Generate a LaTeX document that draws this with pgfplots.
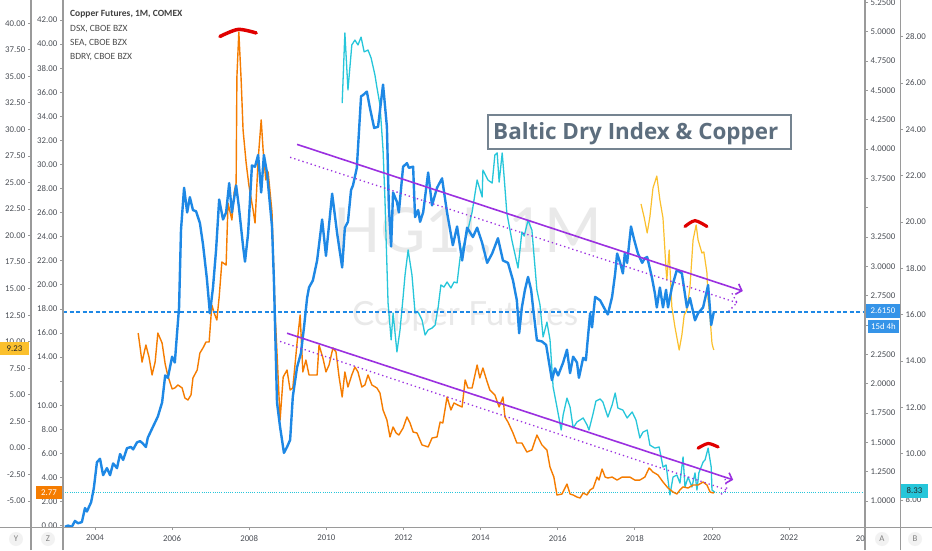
\documentclass[border=0pt]{standalone}
\usepackage{fontspec}
\setmainfont{Carlito}
\newfontfamily\titlefont{Open Sans}
\newfontfamily\wmfont{Lato}
\usepackage{graphicx}
\usepackage{pgfplots}
\pgfplotsset{compat=1.18}
\usetikzlibrary{arrows.meta}
\definecolor{cu}{HTML}{1E88E5}
\definecolor{dsx}{HTML}{F57C00}
\definecolor{sea}{HTML}{26C6DA}
\definecolor{bdry}{HTML}{FBC02D}
\definecolor{purp}{HTML}{9B30E0}
\definecolor{arcred}{HTML}{E00000}
\definecolor{tickc}{HTML}{4B4F56}
\definecolor{axgray}{HTML}{9A9A9A}
\definecolor{wm}{HTML}{E9E9E9}
\definecolor{ttl}{HTML}{5D6E7E}
\pgfplotsset{
 tvbase/.style={scale only axis, height=527pt, anchor=south west, clip=true,
   axis line style={draw=none}, major tick length=3pt, tick align=outside,
   tick style={draw=axgray, line width=0.8pt},
   ticklabel style={font=\fontsize{8.8}{9}\selectfont, text=tickc, inner sep=0pt}},
}
\begin{document}
\begin{tikzpicture}[x=1pt,y=1pt]
\useasboundingbox (0,0) rectangle (932,550);
\fill[white] (0,0) rectangle (932,550);
% watermark
\node[anchor=base west, inner sep=0pt, text=wm] at (333,297) {\resizebox{269pt}{!}{\wmfont HG1!, 1M}};
\node[anchor=base west, inner sep=0pt, text=wm] at (352,225) {\resizebox{226pt}{!}{\wmfont Copper Futures}};
% title box
\draw[draw=ttl!85, line width=1.6pt, fill=white] (488,401) rectangle (791,435);
\node[anchor=base west, inner sep=0pt, text=ttl] at (493,410.5) {\resizebox{285pt}{!}{\titlefont\bfseries Baltic Dry Index \& Copper}};

% ---------- Y axis: BDRY ----------
\begin{axis}[tvbase, width=834pt, at={(31pt,23pt)},
  xmin=2002.340, xmax=2023.969, ymin=-7.449, ymax=42.19,
  axis x line=none, axis y line*=left, xtick=\empty,
  ytick={-5,-2.5,0,2.5,5,7.5,10,12.5,15,17.5,20,22.5,25,27.5,30,32.5,35,37.5,40},
  yticklabels={-5.00,-2.50,0.00,2.50,5.00,7.50,10.00,12.50,15.00,17.50,20.00,22.50,25.00,27.50,30.00,32.50,35.00,37.50,40.00},
  yticklabel style={anchor=east, xshift=-2.5pt}]
\addplot[bdry, line width=1.2pt, line join=round] coordinates {
(2018.16,22.98)(2018.24,21.75)(2018.32,20.25)(2018.39,21.75)(2018.47,24.48)(2018.57,25.61)(2018.65,23.35)(2018.73,21.66)(2018.81,16.76)(2018.83,15.82)(2018.89,18.64)(2018.96,13.27)(2019.04,11.39)(2019.15,9.22)(2019.22,10.64)(2019.28,12.52)(2019.35,12.99)(2019.43,15.16)(2019.51,19.59)(2019.59,21.00)(2019.64,19.59)(2019.74,18.36)(2019.79,18.46)(2019.87,16.48)(2019.90,13.93)(2019.95,12.33)(2020.00,9.88)(2020.03,9.41)(2020.05,9.23)};
\end{axis}

% ---------- B axis: SEA ----------
\begin{axis}[tvbase, width=837pt, at={(63pt,23pt)},
  xmin=2003.170, xmax=2024.876, ymin=6.835, ymax=29.58,
  axis x line=none, axis y line*=right, xtick=\empty,
  ytick={8,10,12,14,16,18,20,22,24,26,28},
  yticklabels={8.00,10.00,12.00,14.00,16.00,18.00,20.00,22.00,24.00,26.00,28.00},
  yticklabel style={anchor=west, xshift=2.5pt}]
\addplot[sea, line width=1pt, dash pattern=on 1pt off 1.2pt] coordinates {(2003.17,8.33)(2023.969,8.33)};
\addplot[sea, line width=1.3pt, line join=round] coordinates {
(2010.41,25.13)(2010.48,28.16)(2010.56,25.70)(2010.66,27.64)(2010.74,27.85)(2010.82,27.64)(2010.90,27.98)(2010.98,27.34)(2011.08,27.42)(2011.16,27.08)(2011.26,26.34)(2011.31,25.82)(2011.39,25.05)(2011.47,23.11)(2011.52,20.95)(2011.55,19.22)(2011.60,16.50)(2011.68,14.91)(2011.73,16.07)(2011.83,14.39)(2011.91,15.34)(2011.99,16.76)(2012.04,17.71)(2012.12,18.79)(2012.22,17.71)(2012.30,16.07)(2012.38,16.11)(2012.48,15.77)(2012.56,15.12)(2012.64,15.34)(2012.74,15.42)(2012.82,15.55)(2012.90,16.33)(2012.97,17.28)(2013.05,17.19)(2013.13,17.41)(2013.23,17.15)(2013.31,17.41)(2013.39,17.37)(2013.47,18.49)(2013.65,19.52)(2013.78,20.43)(2013.91,21.81)(2014.04,21.08)(2014.06,22.24)(2014.19,21.81)(2014.30,21.68)(2014.37,22.89)(2014.43,22.98)(2014.48,21.72)(2014.56,22.98)(2014.61,21.94)(2014.68,20.39)(2014.81,19.22)(2014.97,18.01)(2015.07,19.57)(2015.13,19.39)(2015.23,20.08)(2015.33,19.65)(2015.46,17.06)(2015.54,16.42)(2015.62,15.04)(2015.72,15.68)(2015.80,14.91)(2015.88,12.88)(2015.98,12.01)(2016.09,11.02)(2016.14,11.67)(2016.24,12.40)(2016.32,12.01)(2016.40,11.11)(2016.50,11.37)(2016.66,11.54)(2016.76,11.24)(2016.81,11.02)(2016.92,11.75)(2016.99,12.27)(2017.10,12.36)(2017.17,12.23)(2017.30,11.58)(2017.41,12.10)(2017.49,12.62)(2017.56,11.97)(2017.69,11.88)(2017.80,11.54)(2017.93,11.80)(2018.03,11.45)(2018.13,10.68)(2018.21,10.93)(2018.32,11.02)(2018.39,10.37)(2018.52,10.24)(2018.63,10.29)(2018.73,9.42)(2018.81,9.51)(2018.91,8.22)(2018.99,8.99)(2019.09,9.08)(2019.17,8.73)(2019.25,9.86)(2019.30,8.56)(2019.38,8.99)(2019.48,8.56)(2019.56,9.17)(2019.61,8.43)(2019.66,9.17)(2019.77,9.64)(2019.82,9.73)(2019.90,10.24)(2019.98,9.42)(2020.00,8.43)(2020.03,8.39)(2020.08,8.33)};
\end{axis}

% ---------- Z axis: DSX ----------
\begin{axis}[tvbase, width=802pt, at={(63pt,23pt)},
  xmin=2003.170, xmax=2023.969, ymin=-0.108, ymax=43.66,
  axis x line=none, axis y line*=left, xtick=\empty,
  ytick={0,2,4,6,8,10,12,14,16,18,20,22,24,26,28,30,32,34,36,38,40,42},
  yticklabels={0.00,2.00,4.00,6.00,8.00,10.00,,14.00,16.00,18.00,20.00,22.00,24.00,26.00,28.00,30.00,32.00,34.00,36.00,38.00,40.00,42.00},
  yticklabel style={anchor=east, xshift=-2.5pt}]
\addplot[dsx, line width=1.4pt, line join=round] coordinates {
(2005.12,16.00)(2005.22,13.59)(2005.32,15.01)(2005.40,14.01)(2005.48,12.52)(2005.56,13.60)(2005.63,16.00)(2005.74,15.17)(2005.82,13.43)(2005.89,12.43)(2006.00,11.36)(2006.07,11.44)(2006.15,11.69)(2006.26,11.44)(2006.33,10.61)(2006.41,10.44)(2006.49,10.86)(2006.54,12.27)(2006.65,12.93)(2006.72,14.34)(2006.80,14.76)(2006.88,15.26)(2006.96,15.26)(2007.03,18.33)(2007.09,17.67)(2007.16,17.08)(2007.22,18.99)(2007.29,21.90)(2007.40,21.65)(2007.45,26.79)(2007.55,25.39)(2007.61,27.71)(2007.66,28.46)(2007.68,37.27)(2007.73,41.00)(2007.79,37.02)(2007.84,32.86)(2007.92,30.12)(2007.99,28.29)(2008.10,26.22)(2008.15,25.14)(2008.23,30.37)(2008.31,33.70)(2008.36,31.20)(2008.43,28.71)(2008.49,29.38)(2008.59,26.04)(2008.67,17.67)(2008.72,14.34)(2008.80,8.78)(2008.88,12.35)(2008.98,12.93)(2009.06,11.27)(2009.13,11.44)(2009.24,15.17)(2009.32,17.50)(2009.39,12.77)(2009.47,13.76)(2009.55,12.52)(2009.65,12.52)(2009.76,12.52)(2009.81,15.01)(2009.91,13.93)(2009.99,12.77)(2010.07,13.35)(2010.17,14.76)(2010.25,14.43)(2010.33,12.35)(2010.41,10.69)(2010.48,12.77)(2010.56,11.52)(2010.66,12.52)(2010.74,13.18)(2010.82,12.77)(2010.92,11.52)(2011.00,11.69)(2011.08,12.52)(2011.18,11.69)(2011.31,11.44)(2011.39,11.02)(2011.47,9.61)(2011.57,8.78)(2011.65,7.37)(2011.73,8.20)(2011.81,7.70)(2011.88,7.53)(2011.99,8.11)(2012.09,9.03)(2012.17,8.53)(2012.25,7.78)(2012.35,7.70)(2012.48,6.71)(2012.64,6.54)(2012.74,7.28)(2012.87,7.37)(2012.95,8.61)(2013.02,8.53)(2013.13,10.69)(2013.23,9.61)(2013.31,10.19)(2013.41,10.02)(2013.52,9.86)(2013.60,12.10)(2013.67,11.44)(2013.78,11.44)(2013.91,13.35)(2013.98,12.27)(2014.06,13.10)(2014.17,11.94)(2014.24,11.27)(2014.37,10.86)(2014.48,9.86)(2014.58,10.69)(2014.63,9.03)(2014.71,8.61)(2014.84,7.70)(2014.94,6.87)(2015.07,6.87)(2015.20,6.12)(2015.33,6.29)(2015.46,7.53)(2015.59,6.71)(2015.72,6.29)(2015.80,4.87)(2015.90,4.04)(2015.98,2.55)(2016.11,2.63)(2016.24,3.46)(2016.32,2.63)(2016.40,2.55)(2016.50,2.38)(2016.58,2.30)(2016.66,2.72)(2016.76,2.55)(2016.84,2.97)(2016.92,3.13)(2017.02,4.04)(2017.07,3.79)(2017.15,4.71)(2017.23,4.04)(2017.30,3.96)(2017.41,4.04)(2017.54,3.79)(2017.67,4.04)(2017.80,4.04)(2017.87,4.04)(2018.00,3.79)(2018.13,3.79)(2018.26,4.04)(2018.37,4.79)(2018.47,4.46)(2018.60,4.21)(2018.73,3.63)(2018.86,3.13)(2018.99,2.80)(2019.09,2.63)(2019.17,2.97)(2019.25,3.22)(2019.38,3.13)(2019.51,3.38)(2019.64,3.38)(2019.77,3.63)(2019.87,3.38)(2019.95,2.80)(2020.03,2.72)(2020.05,2.77)};
\end{axis}

% ---------- A axis: Copper (main) ----------
\begin{axis}[tvbase, width=802pt, at={(63pt,23pt)},
  xmin=2003.170, xmax=2023.969, ymin=0.778, ymax=5.271,
  axis x line*=bottom, axis y line*=right,
  xtick={2004,2006,2008,2010,2012,2014,2016,2018,2020,2022},
  xticklabels={2004,2006,2008,2010,2012,2014,2016,2018,2020,2022},
  xticklabel style={anchor=north, yshift=-5pt},
  ytick={1,1.25,1.5,1.75,2,2.25,2.5,2.75,3,3.25,3.5,3.75,4,4.25,4.5,4.75,5,5.25},
  yticklabels={1.0000,1.2500,1.5000,1.7500,2.0000,2.2500,,2.7500,3.0000,3.2500,,3.7500,4.0000,4.2500,4.5000,4.7500,5.0000,5.2500},
  yticklabel style={anchor=west, xshift=2.5pt}]
\addplot[cu, line width=2.4pt, line join=round] coordinates {
(2003.22,0.78)(2003.30,0.79)(2003.40,0.78)(2003.48,0.83)(2003.56,0.81)(2003.66,0.82)(2003.74,0.94)(2003.79,0.91)(2003.90,0.99)(2003.97,1.11)(2004.05,1.33)(2004.13,1.36)(2004.21,1.22)(2004.31,1.28)(2004.39,1.22)(2004.47,1.32)(2004.57,1.28)(2004.65,1.40)(2004.73,1.35)(2004.83,1.45)(2004.93,1.46)(2004.99,1.44)(2005.09,1.50)(2005.17,1.51)(2005.24,1.49)(2005.32,1.46)(2005.37,1.54)(2005.50,1.63)(2005.63,1.72)(2005.74,1.84)(2005.82,2.07)(2005.89,2.05)(2006.00,2.23)(2006.07,2.18)(2006.13,2.44)(2006.18,2.65)(2006.23,3.31)(2006.31,3.67)(2006.39,3.46)(2006.46,3.59)(2006.54,3.48)(2006.62,3.47)(2006.72,3.37)(2006.80,3.19)(2006.90,2.90)(2006.98,2.60)(2007.06,2.82)(2007.14,3.14)(2007.22,3.57)(2007.32,3.40)(2007.40,3.46)(2007.48,3.71)(2007.55,3.46)(2007.66,3.69)(2007.73,3.51)(2007.84,3.17)(2007.89,3.04)(2007.97,3.28)(2008.07,3.86)(2008.15,3.85)(2008.23,3.95)(2008.31,3.63)(2008.38,3.95)(2008.46,3.80)(2008.59,3.34)(2008.64,2.88)(2008.72,1.84)(2008.80,1.63)(2008.90,1.41)(2008.98,1.46)(2009.06,1.52)(2009.13,1.89)(2009.24,2.14)(2009.34,2.26)(2009.42,2.48)(2009.50,2.73)(2009.55,2.82)(2009.65,2.88)(2009.76,3.05)(2009.89,3.40)(2009.99,3.09)(2010.15,3.62)(2010.28,3.28)(2010.41,2.99)(2010.48,3.33)(2010.56,3.38)(2010.64,3.65)(2010.69,3.69)(2010.79,3.84)(2010.90,4.45)(2010.95,4.46)(2011.05,4.49)(2011.13,4.35)(2011.24,4.18)(2011.34,4.19)(2011.47,4.55)(2011.57,4.19)(2011.62,3.51)(2011.68,3.17)(2011.73,3.63)(2011.83,3.55)(2011.88,3.46)(2011.99,3.85)(2012.09,3.88)(2012.14,3.84)(2012.25,3.85)(2012.30,3.42)(2012.38,3.48)(2012.43,3.38)(2012.51,3.46)(2012.64,3.80)(2012.74,3.52)(2012.87,3.67)(2013.00,3.75)(2013.13,3.46)(2013.21,3.31)(2013.28,3.18)(2013.39,3.34)(2013.52,3.05)(2013.65,3.33)(2013.80,3.25)(2013.91,3.33)(2014.04,3.20)(2014.17,3.03)(2014.30,3.11)(2014.45,3.24)(2014.58,3.05)(2014.71,3.03)(2014.84,2.88)(2014.94,2.71)(2015.00,2.43)(2015.07,2.65)(2015.15,2.80)(2015.23,2.91)(2015.31,2.80)(2015.36,2.65)(2015.46,2.37)(2015.59,2.36)(2015.70,2.33)(2015.85,2.03)(2015.93,2.13)(2016.01,2.07)(2016.14,2.18)(2016.24,2.29)(2016.32,2.09)(2016.40,2.23)(2016.50,2.18)(2016.55,2.05)(2016.66,2.22)(2016.73,2.20)(2016.84,2.60)(2016.89,2.48)(2016.97,2.74)(2017.10,2.71)(2017.23,2.63)(2017.30,2.59)(2017.41,2.74)(2017.49,2.94)(2017.54,3.11)(2017.62,3.03)(2017.69,2.94)(2017.74,3.11)(2017.80,3.03)(2017.90,3.34)(2017.98,3.23)(2018.08,3.11)(2018.19,3.03)(2018.26,3.07)(2018.32,3.08)(2018.44,2.91)(2018.52,2.77)(2018.57,2.65)(2018.65,2.82)(2018.73,2.65)(2018.81,2.80)(2018.86,2.65)(2018.96,2.82)(2019.09,2.97)(2019.22,2.94)(2019.35,2.65)(2019.43,2.73)(2019.56,2.54)(2019.64,2.60)(2019.77,2.65)(2019.90,2.84)(2019.98,2.50)(2020.05,2.615)};
% last price line
\addplot[cu, line width=2pt, dash pattern=on 4pt off 2.5pt] coordinates {(2003.17,2.615)(2023.969,2.615)};
% trend channels
\addplot[purp, line width=1.6pt, -{Straight Barb[length=5pt,width=11pt]}] coordinates {(2009.24,4.04)(2020.80,2.79)};
\addplot[purp, line width=1.3pt, dash pattern=on 1.3pt off 3pt] coordinates {(2009.06,3.93)(2020.65,2.69)};
\addplot[purp, line width=1.3pt, dash pattern=on 1.3pt off 3pt] coordinates {(2020.52,2.77)(2020.65,2.69)(2020.44,2.62)};
\addplot[purp, line width=1.6pt, -{Straight Barb[length=5pt,width=11pt]}] coordinates {(2008.98,2.43)(2020.55,1.18)};
\addplot[purp, line width=1.3pt, dash pattern=on 1.3pt off 3pt] coordinates {(2008.80,2.36)(2020.39,1.094)};
\addplot[purp, line width=1.3pt, dash pattern=on 1.3pt off 3pt] coordinates {(2020.34,1.188)(2020.39,1.094)(2020.21,1.051)};
% red arcs
\addplot[arcred, line width=3.5pt, smooth, line cap=round] coordinates {(2007.24,4.96)(2007.71,5.02)(2008.18,4.99)};
\addplot[arcred, line width=3.2pt, smooth, line cap=round] coordinates {(2019.30,3.34)(2019.56,3.39)(2019.87,3.34)};
\addplot[arcred, line width=3.2pt, smooth, line cap=round] coordinates {(2019.64,1.45)(2019.90,1.49)(2020.16,1.46)};
\end{axis}

% frame lines
\draw[axgray, line width=1.2pt] (31,0) -- (31,550);
\draw[axgray, line width=1.2pt] (63,0) -- (63,550);
\draw[axgray, line width=1.2pt] (865,0) -- (865,550);
\draw[axgray, line width=1.2pt] (900.5,0) -- (900.5,550);
\draw[axgray, line width=1pt] (0,23) -- (932,23);
\node[anchor=east, inner sep=0pt, text=tickc, font=\fontsize{8.8}{9}\selectfont] at (865,11) {20};
% bottom scale letters
\foreach \xx/\ll in {16/Y,48/Z,882/A,915/B}{
  \fill[black!5] (\xx,11) circle (7);
  \node[text=black!50, font=\fontsize{8.8}{9}\selectfont] at (\xx,11) {\ll};
}
% legend
\node[anchor=west, inner sep=0pt, text=black!75, font=\fontsize{9.5}{10}\selectfont\bfseries] at (70,535.7) {Copper Futures, 1M, COMEX};
\node[anchor=west, inner sep=0pt, text=black!70, font=\fontsize{9.5}{10}\selectfont] at (70,521.3) {DSX, CBOE BZX};
\node[anchor=west, inner sep=0pt, text=black!70, font=\fontsize{9.5}{10}\selectfont] at (70,507.3) {SEA, CBOE BZX};
\node[anchor=west, inner sep=0pt, text=black!70, font=\fontsize{9.5}{10}\selectfont] at (70,492.7) {BDRY, CBOE BZX};
% price labels
\fill[bdry] (0,195) rectangle (29,208);
\node[text=black!85, font=\fontsize{8.8}{9}\selectfont] at (14.5,201.5) {9.23};
\fill[dsx] (36,51) rectangle (62,64);
\node[text=white, font=\fontsize{8.8}{9}\selectfont] at (49,57.5) {2.77};
\fill[cu!90!white] (866,232) rectangle (900,246);
\node[text=white, font=\fontsize{8.8}{9}\selectfont] at (883,239) {2.6150};
\fill[cu!90!white] (868,217) rectangle (899,230);
\node[text=white, font=\fontsize{8.8}{9}\selectfont] at (883.5,223.5) {15d 4h};
\fill[sea] (901,52) rectangle (928,66);
\node[text=black!85, font=\fontsize{8.8}{9}\selectfont] at (914.5,59) {8.33};
\end{tikzpicture}
\end{document}
